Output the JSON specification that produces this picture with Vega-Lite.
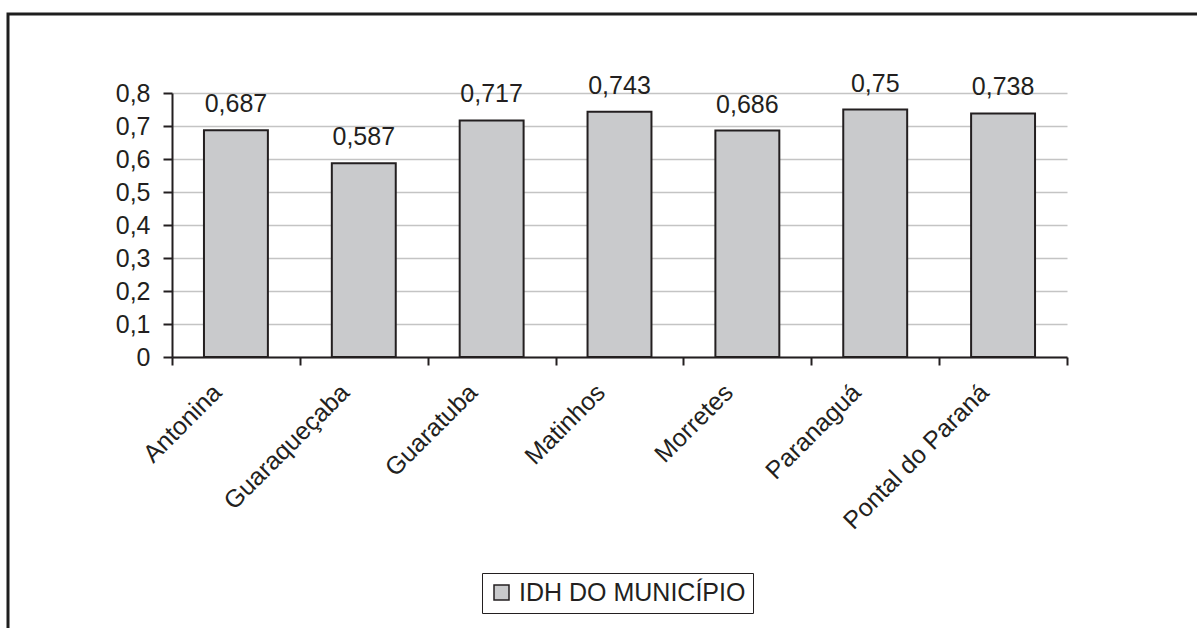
{
  "$schema": "https://vega.github.io/schema/vega-lite/v6.json",
  "width": 1219,
  "height": 644,
  "autosize": {"type": "none"},
  "padding": {"left": 8, "top": 14, "right": -30, "bottom": -30},
  "background": "white",
  "config": {
    "locale": {"number": {"decimal": ",", "thousands": ".", "grouping": [3], "currency": ["R$ ", ""]}},
    "font": "Liberation Sans",
    "view": {"stroke": "#1e1e1e", "strokeWidth": 3}
  },
  "data": {
    "values": [
      {"municipio": "Antonina", "idh": 0.687, "serie": "IDH DO MUNICÍPIO"},
      {"municipio": "Guaraqueçaba", "idh": 0.587, "serie": "IDH DO MUNICÍPIO"},
      {"municipio": "Guaratuba", "idh": 0.717, "serie": "IDH DO MUNICÍPIO"},
      {"municipio": "Matinhos", "idh": 0.743, "serie": "IDH DO MUNICÍPIO"},
      {"municipio": "Morretes", "idh": 0.686, "serie": "IDH DO MUNICÍPIO"},
      {"municipio": "Paranaguá", "idh": 0.75, "serie": "IDH DO MUNICÍPIO"},
      {"municipio": "Pontal do Paraná", "idh": 0.738, "serie": "IDH DO MUNICÍPIO"}
    ]
  },
  "encoding": {
    "x": {
      "field": "municipio",
      "type": "nominal",
      "sort": null,
      "scale": {"range": [164, 1059], "paddingInner": 0, "paddingOuter": 0},
      "axis": {
        "title": null,
        "orient": "bottom",
        "offset": -301,
        "tickBand": "extent",
        "grid": false,
        "domainColor": "#231f20",
        "domainWidth": 2,
        "tickColor": "#231f20",
        "tickWidth": 2,
        "tickSize": 8,
        "labelAngle": -45,
        "labelAlign": "right",
        "labelBaseline": "middle",
        "labelOffset": -19,
        "labelPadding": 23,
        "labelFontSize": 25,
        "labelLimit": 0,
        "labelColor": "#231f20",
        "labelFont": "Liberation Sans"
      }
    },
    "y": {
      "field": "idh",
      "type": "quantitative",
      "scale": {"domain": [0, 0.8], "range": [343, 79], "nice": false},
      "axis": {
        "title": null,
        "orient": "left",
        "offset": -164,
        "values": [0, 0.1, 0.2, 0.3, 0.4, 0.5, 0.6, 0.7, 0.8],
        "format": ".1~f",
        "grid": true,
        "gridColor": "#c4c4c4",
        "gridWidth": 1.5,
        "domainColor": "#231f20",
        "domainWidth": 2,
        "tickColor": "#231f20",
        "tickWidth": 2,
        "tickSize": 9,
        "labelFontSize": 25,
        "labelPadding": 13,
        "labelColor": "#231f20",
        "labelFont": "Liberation Sans"
      }
    }
  },
  "layer": [
    {
      "mark": {"type": "bar", "width": {"band": 0.5}, "stroke": "#231f20", "strokeWidth": 2, "opacity": 1},
      "encoding": {
        "color": {
          "field": "serie",
          "type": "nominal",
          "scale": {"range": ["#c9cacc"]},
          "legend": {
            "title": null,
            "orient": "none",
            "legendX": 474,
            "legendY": 559,
            "symbolType": "square",
            "symbolSize": 225,
            "symbolOpacity": 1,
            "symbolStrokeColor": "#231f20",
            "symbolStrokeWidth": 1.5,
            "labelFontSize": 25,
            "labelFont": "Liberation Sans",
            "labelColor": "#231f20",
            "labelLimit": 0,
            "labelOffset": 5,
            "padding": 7,
            "fillColor": "white",
            "strokeColor": "#231f20"
          }
        }
      }
    },
    {
      "mark": {"type": "text", "baseline": "alphabetic", "dy": -18, "fontSize": 25, "font": "Liberation Sans", "color": "#231f20"},
      "encoding": {
        "text": {"field": "idh", "type": "quantitative", "format": ".3~f"}
      }
    }
  ]
}
